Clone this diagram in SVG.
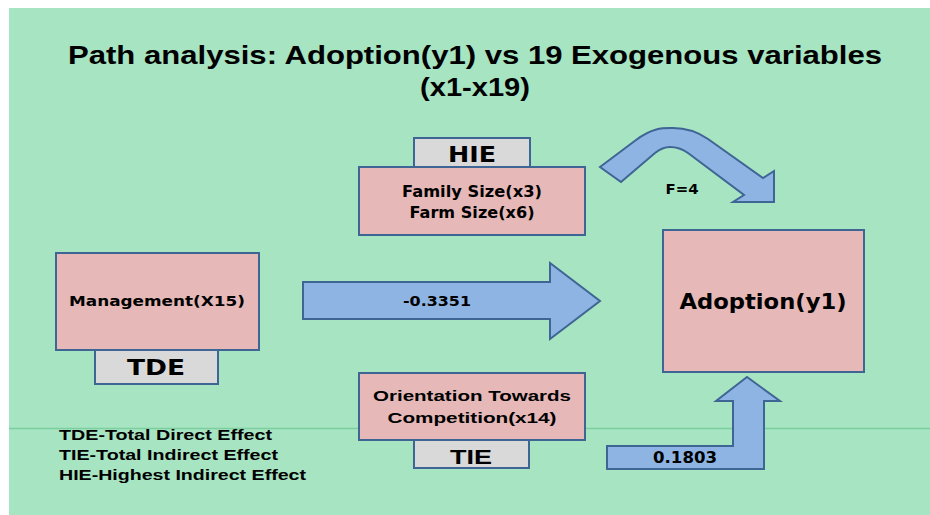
<svg xmlns="http://www.w3.org/2000/svg" width="930" height="515" viewBox="0 0 930 515">
<style>
.t{font-family:"Liberation Sans",Arial,sans-serif;font-weight:bold;fill:#000}
.w{font-family:"DejaVu Sans",Verdana,sans-serif;font-weight:bold;fill:#000}
.pink{fill:#e6b8b7;stroke:#3f6594;stroke-width:2}
.grey{fill:#d9d9d9;stroke:#3f6594;stroke-width:2}
.arr{fill:#8eb4e3;stroke:#3f6594;stroke-width:2;stroke-linejoin:miter}
</style>
<rect x="0" y="0" width="930" height="515" fill="#ffffff"/>
<rect x="9" y="8" width="921" height="507" fill="#a6e4c2"/>
<line x1="9" y1="428.5" x2="930" y2="428.5" stroke="#7dce9e" stroke-width="1.5"/>
<g id="title">
<text class="t" x="475" y="64" font-size="25" text-anchor="middle" textLength="814" lengthAdjust="spacingAndGlyphs">Path  analysis: Adoption(y1) vs 19 Exogenous variables</text>
<text class="t" x="475" y="96" font-size="25" text-anchor="middle" textLength="110" lengthAdjust="spacingAndGlyphs">(x1-x19)</text>
</g>
<g id="connectors">
<path class="arr" d="M600,167 L636,140 C653,127 664,128 673,128 C684,128 695,130 708,139 L763,178 L774,171 L774,202 L733,202 L744,195 L688,153 C681,148 675,147 670,147 C664,147 660,149 655,153 L621,182 Z"/>
<polygon class="arr" points="303,282 550,282 550,263 600,301 550,339 550,319 303,319"/>
<polygon class="arr" points="607,446 733,446 733,401 716,401 747,377 780,401 764,401 764,469 607,469"/>
<text class="w" x="682" y="194" font-size="14" text-anchor="middle" textLength="33" lengthAdjust="spacingAndGlyphs">F=4</text>
<text class="w" x="437" y="306" font-size="14" text-anchor="middle" textLength="68" lengthAdjust="spacingAndGlyphs">-0.3351</text>
<text class="w" x="685" y="463" font-size="15" text-anchor="middle" textLength="64" lengthAdjust="spacingAndGlyphs">0.1803</text>
</g>
<g id="hie">
<rect class="grey" x="414" y="138" width="116" height="29"/>
<text class="w" x="472" y="162" font-size="21" text-anchor="middle" textLength="48" lengthAdjust="spacingAndGlyphs">HIE</text>
</g>
<g id="family">
<rect class="pink" x="359" y="167" width="226" height="68"/>
<text class="w" x="472" y="197" font-size="15" text-anchor="middle" textLength="140" lengthAdjust="spacingAndGlyphs">Family Size(x3)</text>
<text class="w" x="472" y="218" font-size="15" text-anchor="middle" textLength="125" lengthAdjust="spacingAndGlyphs">Farm Size(x6)</text>
</g>
<g id="management">
<rect class="pink" x="56" y="253" width="203" height="97"/>
<text class="w" x="157" y="306" font-size="14" text-anchor="middle" textLength="176" lengthAdjust="spacingAndGlyphs">Management(X15)</text>
</g>
<g id="tde">
<rect class="grey" x="95" y="350" width="123" height="34"/>
<text class="w" x="156" y="375" font-size="21" text-anchor="middle" textLength="58" lengthAdjust="spacingAndGlyphs">TDE</text>
</g>
<g id="adoption">
<rect class="pink" x="663" y="230" width="201" height="142"/>
<text class="w" x="763" y="309" font-size="21" text-anchor="middle" textLength="167" lengthAdjust="spacingAndGlyphs">Adoption(y1)</text>
</g>
<g id="orientation">
<rect class="pink" x="359" y="373" width="226" height="67"/>
<text class="t" x="472" y="401" font-size="15" text-anchor="middle" textLength="198" lengthAdjust="spacingAndGlyphs">Orientation Towards</text>
<text class="t" x="472" y="423" font-size="15" text-anchor="middle" textLength="169" lengthAdjust="spacingAndGlyphs">Competition(x14)</text>
</g>
<g id="tie">
<rect class="grey" x="414" y="440" width="115" height="28"/>
<text class="t" x="471" y="464" font-size="21" text-anchor="middle" textLength="42" lengthAdjust="spacingAndGlyphs">TIE</text>
</g>
<g id="legend">
<text class="t" x="59" y="440" font-size="15" textLength="213" lengthAdjust="spacingAndGlyphs">TDE-Total Direct Effect</text>
<text class="t" x="59" y="460" font-size="15" textLength="219" lengthAdjust="spacingAndGlyphs">TIE-Total Indirect Effect</text>
<text class="t" x="59" y="480" font-size="15" textLength="247" lengthAdjust="spacingAndGlyphs">HIE-Highest Indirect Effect</text>
</g>
</svg>
